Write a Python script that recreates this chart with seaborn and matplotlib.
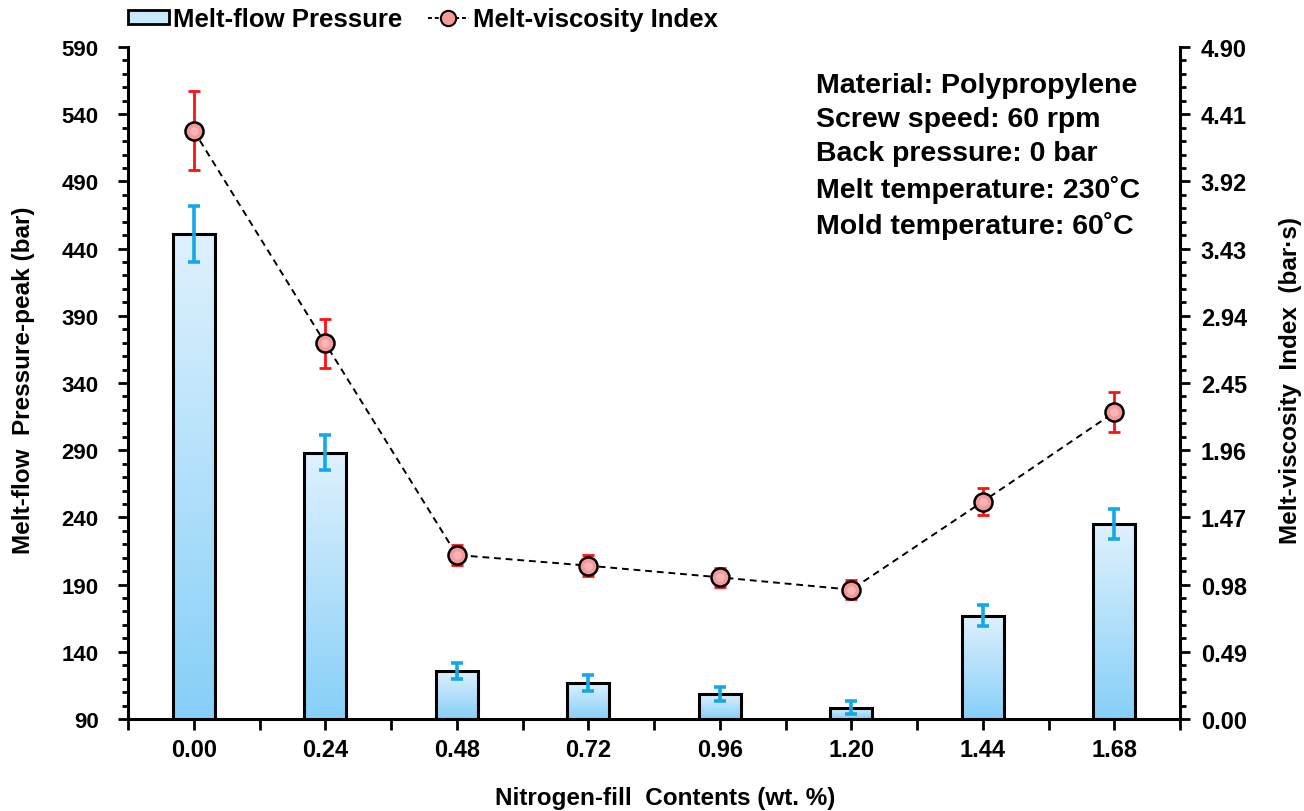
import numpy as np
import pandas as pd
import matplotlib
matplotlib.use("Agg")
import matplotlib.pyplot as plt
from matplotlib.colors import LinearSegmentedColormap
from matplotlib.lines import Line2D
from matplotlib.patches import Patch
from matplotlib.ticker import MultipleLocator, FixedLocator, FormatStrFormatter
import seaborn as sns

# ---- data ----
contents = ["0.00", "0.24", "0.48", "0.72", "0.96", "1.20", "1.44", "1.68"]
pressure = [451, 288, 126, 117, 108.6, 98.5, 167, 235]
pressure_err = [21, 13, 6, 6, 5, 5, 8, 11]
viscosity = [4.29, 2.74, 1.196, 1.118, 1.033, 0.943, 1.585, 2.236]
viscosity_err = [0.29, 0.18, 0.075, 0.075, 0.07, 0.07, 0.10, 0.145]
y_left_ticks = [90, 140, 190, 240, 290, 340, 390, 440, 490, 540, 590]
y_right_ticks = [0.00, 0.49, 0.98, 1.47, 1.96, 2.45, 2.94, 3.43, 3.92, 4.41, 4.90]
conditions = ["Material: Polypropylene", "Screw speed: 60 rpm", "Back pressure: 0 bar",
              "Melt temperature: 230˚C", "Mold temperature: 60˚C"]

sns.set_theme(style="white")
plt.rcParams["font.family"] = ["Liberation Sans", "DejaVu Sans"]
plt.rcParams["font.weight"] = "bold"
for key in ["text.color", "axes.labelcolor", "xtick.color", "ytick.color"]:
    plt.rcParams[key] = "black"

df = pd.DataFrame({"content": contents, "pressure": pressure})

fig = plt.figure(figsize=(13.04, 8.12), dpi=100)
ax = fig.add_axes([128 / 1304, 1 - 720 / 812, 1052 / 1304, 672 / 812])

sns.barplot(data=df, x="content", y="pressure", order=contents, ax=ax,
            width=0.32, color="#c8e8fc", edgecolor="black", linewidth=2.2,
            errorbar=None, zorder=2)

# vertical gradient inside each bar
grad = LinearSegmentedColormap.from_list("barfill", ["#86cff8", "#dff1fd"])
gradimg = np.linspace(0, 1, 256).reshape(-1, 1)
for patch in ax.patches:
    x0, y0 = patch.get_x(), patch.get_y()
    w, h = patch.get_width(), patch.get_height()
    im = ax.imshow(gradimg, cmap=grad, origin="lower", aspect="auto",
                   extent=[x0, x0 + w, 90, y0 + h], zorder=2.1,
                   interpolation="bicubic")
    im.set_clip_path(patch)
    patch.set_facecolor("none")
    patch.set_zorder(2.2)

xpos = np.arange(len(contents))
ax.errorbar(xpos, pressure, yerr=pressure_err, fmt="none", ecolor="#16a8e6",
            elinewidth=2.6, capsize=4, capthick=2.6, zorder=3)

ax.set_xlim(-0.5, len(contents) - 0.5)
ax.set_ylim(90, 590)
ax.yaxis.set_major_locator(FixedLocator(y_left_ticks))
ax.yaxis.set_minor_locator(MultipleLocator(10))
ax.xaxis.set_minor_locator(FixedLocator(np.arange(-0.5, len(contents), 1.0)))
ax.set_xticks(xpos)
ax.set_xticklabels(contents)

for s in ["top", "right"]:
    ax.spines[s].set_visible(False)
for s in ["left", "bottom"]:
    ax.spines[s].set_visible(True)
    ax.spines[s].set_color("black")
    ax.spines[s].set_linewidth(2.2)

ax.tick_params(axis="y", which="major", direction="out", length=7, width=2,
               labelsize=16, left=True, pad=14)
ax.tick_params(axis="y", which="minor", direction="out", length=4, width=2, left=True)
ax.tick_params(axis="x", which="both", direction="out", length=8, width=2,
               labelsize=17, bottom=True, pad=6)
for lab in ax.get_xticklabels() + ax.get_yticklabels():
    lab.set_fontweight("bold")

ax.set_xlabel("Nitrogen-fill  Contents (wt. %)", fontsize=17.5, fontweight="bold")
ax.xaxis.set_label_coords(0.5105, -0.100)
ax.set_ylabel("Melt-flow  Pressure-peak (bar)", fontsize=17.5, fontweight="bold")
ax.yaxis.set_label_coords(-0.088, 0.505)
ax.grid(False)

# ---- viscosity on the secondary axis ----
ax2 = ax.twinx()
ax2.errorbar(xpos, viscosity, yerr=viscosity_err, fmt="none", ecolor="#ff1010",
             elinewidth=2, capsize=4, capthick=2, zorder=3)
sns.lineplot(x=xpos, y=viscosity, ax=ax2, color="black", linestyle=(0, (3.5, 2.5)),
             linewidth=1.4, zorder=4)
ax2.plot(xpos, viscosity, linestyle="none", marker="o", markersize=13,
         markerfacecolor="#f59a9a", markeredgecolor="black", markeredgewidth=1.8, zorder=5)
ax2.plot(xpos, viscosity, linestyle="none", marker="o", markersize=6,
         markerfacecolor="#fbbcbc", markeredgecolor="none", alpha=0.8, zorder=6)

ax2.set_ylim(0, 4.90)
ax2.yaxis.set_major_locator(FixedLocator(y_right_ticks))
ax2.yaxis.set_minor_locator(MultipleLocator(0.098))
ax2.yaxis.set_major_formatter(FormatStrFormatter("%.2f"))
for s in ["top", "left", "bottom"]:
    ax2.spines[s].set_visible(False)
ax2.spines["right"].set_visible(True)
ax2.spines["right"].set_color("black")
ax2.spines["right"].set_linewidth(2.2)
ax2.tick_params(axis="y", which="major", direction="out", length=7, width=2,
                labelsize=17, right=True, pad=8)
ax2.tick_params(axis="y", which="minor", direction="out", length=4, width=2, right=True)
for lab in ax2.get_yticklabels():
    lab.set_fontweight("bold")
ax2.set_ylabel("Melt-viscosity  Index  (bar·s)", fontsize=17.5, fontweight="bold",
               rotation=90)
ax2.yaxis.set_label_coords(1.094, 0.505)
ax2.grid(False)

# processing conditions
ax.text(0.654, 0.963, "\n".join(conditions), transform=ax.transAxes, ha="left", va="top",
        fontsize=20.5, fontweight="bold", linespacing=1.40, zorder=7)

# legend above the plot
handles = [
    Patch(facecolor="#c8e8fc", edgecolor="black", linewidth=2),
    Line2D([0], [0], color="black", linestyle=(0, (2, 1.5)), linewidth=1.4, marker="o",
           markersize=11, markerfacecolor="#f59a9a", markeredgecolor="black",
           markeredgewidth=1.5),
]
fig.legend(handles, ["Melt-flow Pressure", "Melt-viscosity Index"],
           loc="center left", bbox_to_anchor=(128 / 1304, 1 - 20 / 812), ncol=2,
           frameon=False, prop={"weight": "bold", "size": 18.5}, handlelength=1.6,
           handleheight=0.5, handletextpad=0.15, columnspacing=1.0, borderaxespad=0,
           borderpad=0)

fig.savefig("out.png", dpi=100)
